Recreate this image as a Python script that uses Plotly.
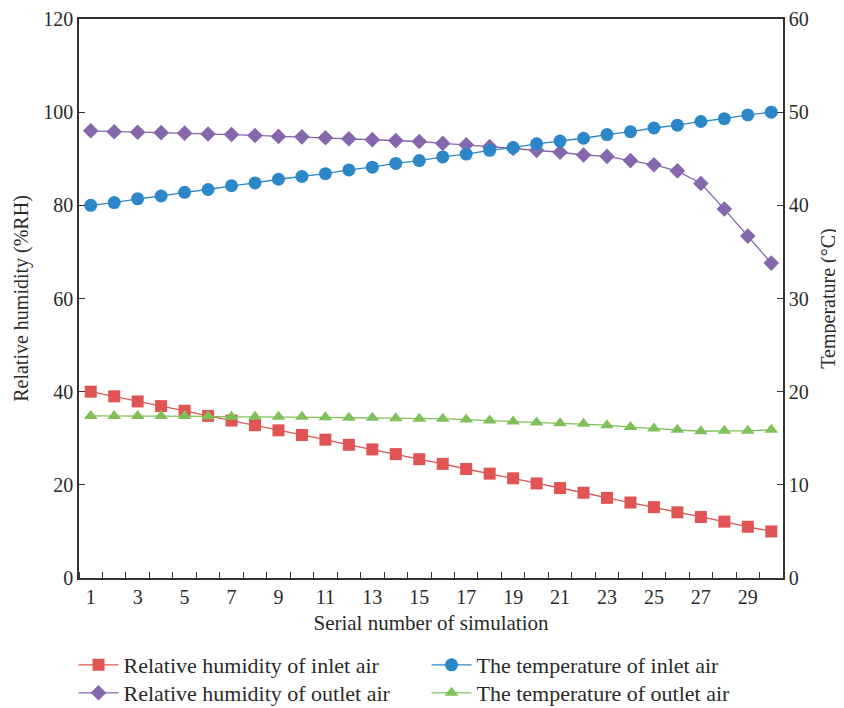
import plotly.graph_objects as go

x_serial = list(range(1, 31))
x_tick_labels = [str(v) for v in range(1, 30, 2)]

rh_inlet = [40.0, 39.0, 37.9, 36.9, 35.9, 34.8, 33.8, 32.8, 31.7, 30.7,
            29.7, 28.6, 27.6, 26.6, 25.5, 24.5, 23.4, 22.4, 21.4, 20.3,
            19.3, 18.3, 17.2, 16.2, 15.2, 14.1, 13.1, 12.1, 11.0, 10.0]
rh_outlet = [96.0, 95.8, 95.7, 95.6, 95.5, 95.3, 95.2, 95.0, 94.8, 94.7,
             94.5, 94.3, 94.1, 93.9, 93.7, 93.3, 93.0, 92.6, 92.2, 91.8,
             91.4, 90.8, 90.5, 89.6, 88.7, 87.4, 84.7, 79.2, 73.4, 67.6]
temp_inlet = [40.0, 40.3, 40.7, 41.0, 41.4, 41.7, 42.1, 42.4, 42.8, 43.1,
              43.4, 43.8, 44.1, 44.5, 44.8, 45.2, 45.5, 45.9, 46.2, 46.6,
              46.9, 47.2, 47.6, 47.9, 48.3, 48.6, 49.0, 49.3, 49.7, 50.0]
temp_outlet = [17.4, 17.4, 17.4, 17.4, 17.4, 17.35, 17.3, 17.3, 17.3, 17.3,
               17.25, 17.2, 17.2, 17.15, 17.1, 17.1, 17.0, 16.9, 16.8, 16.7,
               16.6, 16.55, 16.4, 16.2, 16.05, 15.9, 15.75, 15.8, 15.8, 15.9]

RED = "#E05454"
PURPLE = "#8666AC"
BLUE = "#2B87C8"
GREEN = "#80C05A"
FONT = "Liberation Serif"
TXT = "#2a2a2a"
AX = "#333333"

fig = go.Figure()
fig.add_trace(go.Scatter(x=x_serial, y=rh_inlet, name="Relative humidity of inlet air",
                         mode="lines+markers", line=dict(color=RED, width=1.3),
                         marker=dict(symbol="square", size=12, color=RED),
                         legend="legend", showlegend=True))
fig.add_trace(go.Scatter(x=x_serial, y=rh_outlet, name="Relative humidity of outlet air",
                         mode="lines+markers", line=dict(color=PURPLE, width=1.3),
                         marker=dict(symbol="diamond", size=12, color=PURPLE),
                         legend="legend2", showlegend=True))
fig.add_trace(go.Scatter(x=x_serial, y=temp_inlet, name="The temperature of inlet air",
                         mode="lines+markers", line=dict(color=BLUE, width=1.3),
                         marker=dict(symbol="circle", size=13, color=BLUE), yaxis="y2",
                         legend="legend3", showlegend=True))
fig.add_trace(go.Scatter(x=x_serial, y=temp_outlet, name="The temperature of outlet air",
                         mode="lines+markers", line=dict(color=GREEN, width=1.3),
                         marker=dict(symbol="triangle-up", size=12, color=GREEN), yaxis="y2",
                         legend="legend4", showlegend=True))

tickfont = dict(family=FONT, size=20, color=TXT)
titlefont = dict(family=FONT, size=20, color=TXT)
legfont = dict(family=FONT, size=22, color=TXT)


def leg(x, y):
    return dict(x=x, y=y, xanchor="left", yanchor="middle", orientation="v",
                font=legfont, bgcolor="rgba(0,0,0,0)", itemwidth=40)


fig.update_layout(
    width=836, height=700,
    showlegend=True,
    margin=dict(l=71, r=61, t=11, b=130, autoexpand=False),
    paper_bgcolor="white", plot_bgcolor="white",
    font=dict(family=FONT, size=20, color=TXT),
    xaxis=dict(range=[0.5, 30.5], tickmode="array",
               tickvals=list(range(1, 30, 2)), ticktext=x_tick_labels,
               ticks="", showgrid=False, zeroline=False,
               showline=True, mirror=True, linecolor=AX, linewidth=1.5,
               tickfont=tickfont, automargin=False,
               minor=dict(tickmode="array", tickvals=[v + 0.5 for v in range(0, 31)],
                          ticks="inside", ticklen=6, tickcolor=AX, tickwidth=1, showgrid=False),
               title=dict(text="Serial number of simulation",
                          font=dict(family=FONT, size=21, color=TXT), standoff=9)),
    yaxis=dict(range=[0, 120], tickvals=[0, 20, 40, 60, 80, 100, 120],
               ticks="inside", ticklen=6, tickcolor=AX,
               showgrid=False, zeroline=False,
               showline=True, linecolor=AX, linewidth=1.5,
               tickfont=tickfont, automargin=False,
               title=dict(text="Relative humidity (%RH)", font=titlefont, standoff=9)),
    yaxis2=dict(range=[0, 60], tickvals=[0, 10, 20, 30, 40, 50, 60],
                overlaying="y", side="right",
                ticks="inside", ticklen=6, tickcolor=AX,
                showgrid=False, zeroline=False,
                showline=True, linecolor=AX, linewidth=1.5,
                tickfont=tickfont, automargin=False,
                title=dict(text="Temperature (°C)", font=titlefont, standoff=13)),
    legend=leg(-0.0078, -0.1556),
    legend2=leg(-0.0078, -0.2057),
    legend3=leg(0.4936, -0.1556),
    legend4=leg(0.4936, -0.2057),
)

fig.write_html("out.html")
